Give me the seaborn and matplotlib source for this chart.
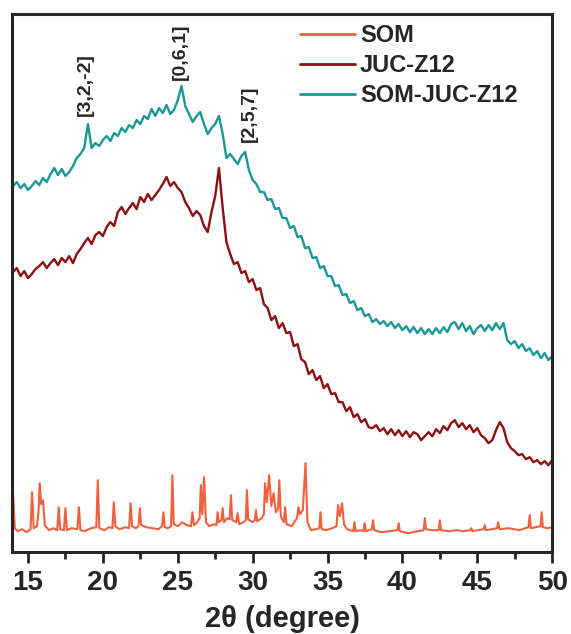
import numpy as np
import matplotlib
matplotlib.use("Agg")
import matplotlib.pyplot as plt
import seaborn as sns
from matplotlib.ticker import MultipleLocator

# ---- data (intensity in arbitrary units) ----
two_theta_grid = np.linspace(14, 50, 145)   # 0.25 degree steps

juc_z12 = [
    280, 284, 276, 281, 274, 278, 283, 286,
    290, 284, 289, 293, 287, 294, 290, 296,
    289, 298, 303, 309, 314, 308, 317, 320,
    316, 325, 330, 326, 340, 345, 338, 344,
    349, 343, 355, 350, 358, 352, 357, 362,
    368, 375, 366, 370, 364, 360, 350, 344,
    336, 341, 337, 326, 320, 340, 356, 384,
    344, 310, 298, 288, 290, 279, 281, 270,
    273, 262, 264, 248, 244, 232, 236, 224,
    229, 219, 220, 206, 208, 193, 190, 178,
    182, 172, 176, 164, 168, 158, 159, 150,
    150, 141, 145, 135, 138, 130, 133, 125,
    124, 127, 121, 124, 118, 123, 117, 122,
    116, 121, 115, 120, 118, 112, 116, 120,
    116, 123, 119, 126, 122, 129, 132, 125,
    129, 123, 127, 120, 124, 117, 114, 109,
    112, 122, 130, 124, 110, 104, 101, 97,
    98, 93, 95, 90, 92, 88, 91, 87,
    92,
]

som_juc_z12 = [
    366, 370, 364, 368, 362, 366, 371, 367,
    374, 370, 378, 384, 377, 383, 376, 380,
    386, 394, 398, 404, 428, 404, 409, 406,
    412, 416, 411, 419, 416, 424, 420, 427,
    424, 432, 428, 436, 433, 443, 436, 444,
    439, 447, 438, 442, 452, 466, 446, 438,
    430, 436, 440, 428, 418, 424, 428, 436,
    418, 394, 398, 393, 388, 396, 400, 382,
    372, 368, 360, 360, 352, 353, 343, 344,
    334, 334, 324, 326, 315, 316, 304, 305,
    294, 295, 284, 286, 276, 276, 266, 267,
    257, 258, 249, 251, 242, 244, 236, 238,
    230, 233, 228, 231, 226, 230, 224, 228,
    222, 226, 220, 225, 219, 224, 218, 223,
    218, 224, 219, 225, 220, 228, 230, 223,
    229, 221, 226, 218, 224, 227, 221, 227,
    222, 229, 223, 229, 212, 208, 211, 204,
    208, 201, 204, 197, 201, 194, 199, 192,
    196,
]

# SOM: sharp crystalline pattern, (2theta, intensity) pairs
som_pattern = [
    (13.95, 56), (14.0, 59), (14.12, 24), (14.3, 21), (14.6, 23), (14.9, 20),
    (15.17, 23), (15.27, 60), (15.38, 24), (15.6, 26), (15.7, 40), (15.78, 69),
    (15.88, 48), (16.0, 52), (16.12, 27), (16.4, 22), (16.7, 24), (16.95, 22),
    (17.05, 45), (17.15, 23), (17.4, 22), (17.5, 44), (17.6, 22), (17.9, 24),
    (18.3, 23), (18.4, 45), (18.5, 22), (18.8, 21), (19.2, 24), (19.56, 25),
    (19.66, 72), (19.76, 24), (20.1, 22), (20.4, 25), (20.63, 24), (20.73, 50),
    (20.83, 26), (21.1, 23), (21.5, 25), (21.75, 24), (21.85, 49), (21.95, 26),
    (22.2, 24), (22.38, 26), (22.47, 44), (22.56, 27), (22.9, 25), (23.3, 24),
    (23.7, 23), (23.95, 26), (24.04, 40), (24.13, 25), (24.35, 24), (24.55, 26),
    (24.64, 77), (24.73, 28), (25.0, 26), (25.3, 30), (25.6, 27), (25.88, 26),
    (25.98, 40), (26.08, 27), (26.3, 30), (26.46, 34), (26.54, 67), (26.64, 38),
    (26.76, 75), (26.88, 30), (27.1, 26), (27.4, 28), (27.58, 27), (27.66, 40),
    (27.74, 30), (27.92, 32), (28.0, 44), (28.08, 30), (28.3, 34), (28.46, 33),
    (28.55, 57), (28.64, 32), (28.9, 30), (29.0, 39), (29.1, 28), (29.4, 30),
    (29.54, 32), (29.62, 62), (29.7, 33), (30.0, 30), (30.14, 32), (30.22, 42),
    (30.3, 31), (30.6, 34), (30.75, 38), (30.83, 69), (30.95, 50), (31.1, 77),
    (31.25, 46), (31.4, 59), (31.55, 40), (31.7, 44), (31.78, 72), (31.88, 36),
    (32.08, 30), (32.17, 45), (32.26, 28), (32.6, 26), (32.96, 34), (33.06, 45),
    (33.16, 38), (33.35, 42), (33.53, 89), (33.66, 30), (33.9, 22), (34.2, 23),
    (34.45, 24), (34.53, 40), (34.61, 23), (34.9, 22), (35.3, 24), (35.6, 26),
    (35.7, 47), (35.82, 36), (35.97, 49), (36.1, 28), (36.3, 23), (36.72, 21),
    (36.8, 30), (36.88, 21), (37.2, 22), (37.4, 21), (37.48, 29), (37.56, 21),
    (37.96, 23), (38.04, 32), (38.12, 22), (38.6, 20), (39.1, 21), (39.67, 22),
    (39.75, 29), (39.83, 21), (40.4, 19), (41.0, 21), (41.42, 22), (41.5, 34),
    (41.58, 23), (42.0, 22), (42.42, 22), (42.5, 32), (42.58, 22), (43.1, 21),
    (43.6, 22), (44.1, 21), (44.52, 22), (44.6, 24), (44.68, 21), (45.0, 22),
    (45.42, 23), (45.5, 27), (45.58, 22), (46.0, 23), (46.32, 24), (46.4, 30),
    (46.48, 23), (47.1, 24), (47.8, 22), (48.42, 25), (48.5, 37), (48.58, 24),
    (48.9, 25), (49.22, 26), (49.3, 40), (49.38, 25), (49.7, 24), (50.0, 25),
]

som_2theta = [p[0] for p in som_pattern]
som_counts = [p[1] for p in som_pattern]

# peak labels of the composite
peak_labels = ["[3,2,-2]", "[0,6,1]", "[2,5,7]"]
peak_label_x = [18.85, 25.2, 29.8]
peak_label_y = [436, 472, 410]

# ---- plot ----
sns.set_style("ticks")
plt.rcParams["font.family"] = ["Liberation Sans", "DejaVu Sans"]
plt.rcParams["font.weight"] = "bold"

fig = plt.figure(figsize=(5.71, 6.34), dpi=100)
ax = fig.add_axes([0.021, 0.129, 0.946, 0.849])

sns.lineplot(x=som_2theta, y=som_counts, color="#f0603f", lw=1.5,
             label="SOM", estimator=None, sort=False, ax=ax)
sns.lineplot(x=two_theta_grid, y=juc_z12, color="#8c0f12", lw=1.7,
             label="JUC-Z12", estimator=None, ax=ax)
sns.lineplot(x=two_theta_grid, y=som_juc_z12, color="#1a9895", lw=1.7,
             label="SOM-JUC-Z12", estimator=None, ax=ax)

for txt, px, py in zip(peak_labels, peak_label_x, peak_label_y):
    ax.text(px, py, txt, rotation=90, ha="center", va="bottom",
            fontsize=14, fontweight="bold")

ax.set_xlim(13.93, 50)
ax.set_ylim(0, 538)
ax.xaxis.set_major_locator(MultipleLocator(5))
ax.xaxis.set_minor_locator(MultipleLocator(2.5))
ax.set_yticks([])
ax.tick_params(axis="x", which="major", direction="out", length=8, width=2,
               labelsize=20, pad=5)
ax.tick_params(axis="x", which="minor", direction="out", length=5, width=2)
for lab in ax.get_xticklabels():
    lab.set_fontweight("bold")
for sp in ax.spines.values():
    sp.set_linewidth(2.2)
    sp.set_visible(True)

ax.set_xlabel("2θ (degree)", fontsize=21, fontweight="bold", labelpad=6)
ax.set_ylabel("")

leg = ax.legend(loc="upper left", bbox_to_anchor=(0.533, 0.981), frameon=False,
                fontsize=17, handlelength=2.35, handletextpad=0.2,
                labelspacing=0.3, borderaxespad=0, borderpad=0)
for t in leg.get_texts():
    t.set_fontweight("bold")
for h in leg.get_lines():
    h.set_linewidth(2)

fig.savefig("out.png", dpi=100)
